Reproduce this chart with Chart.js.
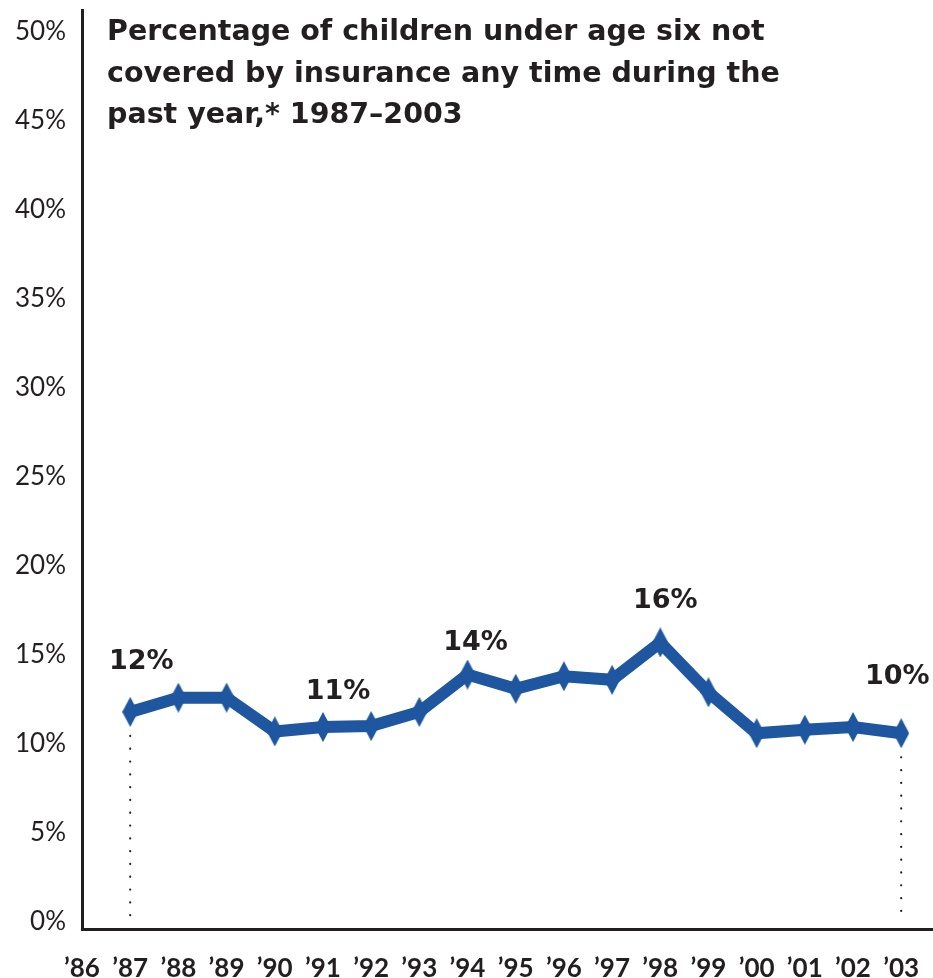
<!DOCTYPE html>
<html>
<head>
<meta charset="utf-8">
<script src="https://cdn.jsdelivr.net/npm/chart.js@4"></script>
<style>
  html, body { margin: 0; padding: 0; background: #fff; overflow: hidden; }
  #wrap { width: 933px; height: 978px; position: relative; }
  canvas { display: block; }
</style>
</head>
<body>
<div id="wrap"><canvas id="grafico"></canvas></div>
<script>
// dados
var anos = [1987, 1988, 1989, 1990, 1991, 1992, 1993, 1994, 1995, 1996, 1997, 1998, 1999, 2000, 2001, 2002, 2003];
var percentuais = [11.8, 12.6, 12.6, 10.7, 10.95, 11.0, 11.8, 13.9, 13.1, 13.8, 13.6, 15.7, 12.9, 10.6, 10.8, 10.95, 10.6];
var anosEixo = [1986, 1987, 1988, 1989, 1990, 1991, 1992, 1993, 1994, 1995, 1996, 1997, 1998, 1999, 2000, 2001, 2002, 2003];
var rotulosAnos = ["\u201986", "\u201987", "\u201988", "\u201989", "\u201990", "\u201991", "\u201992", "\u201993", "\u201994", "\u201995", "\u201996", "\u201997", "\u201998", "\u201999", "\u201900", "\u201901", "\u201902", "\u201903"];
var rotulosY = ["0%", "5%", "10%", "15%", "20%", "25%", "30%", "35%", "40%", "45%", "50%"];
// rotulos em cima de alguns pontos
var destaques = ["12%", null, null, null, "11%", null, null, "14%", null, null, null, "16%", null, null, null, null, "10%"];
var titulo = ["Percentage of children under age six not", "covered by insurance any time during the", "past year,* 1987\u20132003"];

var corLinha = '#1e56a0';
var corTexto = '#231f20';

// deslocamento de cada rotulo em relacao ao ponto
var ajusteDestaque = {
    0: [11, -50],
    4: [15, -35],
    7: [8, -32],
    11: [5, -41],
    16: [-4, -56]
};

// losango alto para os marcadores
var marcador = document.createElement('canvas');
marcador.width = 16;
marcador.height = 30;
var mctx = marcador.getContext('2d');
mctx.fillStyle = corLinha;
mctx.beginPath();
mctx.moveTo(8, 0);
mctx.lineTo(16, 15);
mctx.lineTo(8, 30);
mctx.lineTo(0, 15);
mctx.closePath();
mctx.fill();

var pontos = [];
for (var i = 0; i < anos.length; i++) {
    pontos.push({ x: anos[i], y: percentuais[i] });
}

// tira o espaco extra que o chart.js reserva pros rotulos das pontas
function semPadding(s) {
    s.paddingTop = 0;
    s.paddingBottom = 0;
    s.paddingLeft = 0;
    s.paddingRight = 0;
}

const extras = {
    id: 'extras',
    beforeDatasetsDraw(chart) {
        const ctx = chart.ctx;
        const meta = chart.getDatasetMeta(0);
        const fundo = chart.scales.y.getPixelForValue(0);
        ctx.save();
        ctx.strokeStyle = corTexto;
        ctx.lineWidth = 2.2;
        ctx.lineCap = 'round';
        ctx.setLineDash([0.1, 12.7]);
        [0, anos.length - 1].forEach(function (idx) {
            var p = meta.data[idx];
            ctx.beginPath();
            ctx.moveTo(p.x, p.y + 24);
            ctx.lineTo(p.x, fundo - 4);
            ctx.stroke();
        });
        ctx.restore();
    },
    afterDatasetsDraw(chart) {
        const ctx = chart.ctx;
        const meta = chart.getDatasetMeta(0);
        ctx.save();
        ctx.fillStyle = corTexto;
        ctx.font = 'bold 27px "DejaVu Sans"';
        ctx.textAlign = 'center';
        ctx.textBaseline = 'middle';
        for (var i = 0; i < destaques.length; i++) {
            if (!destaques[i]) continue;
            var p = meta.data[i];
            var d = ajusteDestaque[i];
            ctx.fillText(destaques[i], p.x + d[0], p.y + d[1]);
        }
        ctx.textAlign = 'left';
        ctx.textBaseline = 'alphabetic';
        ctx.font = 'bold 28.5px "DejaVu Sans"';
        for (var j = 0; j < titulo.length; j++) {
            ctx.fillText(titulo[j], 107, 40 + j * 41.5);
        }
        ctx.restore();
    }
};

const config = {
    type: 'line',
    data: {
        datasets: [{
            label: 'Sem seguro',
            data: pontos,
            borderColor: corLinha,
            backgroundColor: corLinha,
            borderWidth: 12,
            tension: 0,
            pointStyle: marcador,
            pointRadius: 10,
            pointHoverRadius: 10,
            pointBorderWidth: 0
        }]
    },
    plugins: [extras],
    options: {
        responsive: true,
        maintainAspectRatio: false,
        animation: false,
        devicePixelRatio: 1,
        layout: { autoPadding: false, padding: { top: 10, right: 0, left: 0, bottom: 0 } },
        plugins: {
            legend: { display: false },
            tooltip: { enabled: false }
        },
        scales: {
            x: {
                type: 'linear',
                min: 1986,
                max: 2003.66,
                afterBuildTicks: function (s) {
                    s.ticks = anosEixo.map(function (v) { return { value: v }; });
                },
                afterFit: function (s) { s.height = 49; semPadding(s); },
                grid: { display: false, drawTicks: false },
                border: { display: true, color: corTexto, width: 3 },
                ticks: {
                    autoSkip: false,
                    maxRotation: 0,
                    padding: 24,
                    color: corTexto,
                    font: { family: 'Lato', weight: 'bold', size: 26 },
                    callback: function (v) { return rotulosAnos[anosEixo.indexOf(v)]; }
                }
            },
            y: {
                min: -0.4,
                max: 51.24,
                afterBuildTicks: function (s) {
                    s.ticks = rotulosY.map(function (t, k) { return { value: k * 5 }; });
                },
                afterFit: function (s) { s.width = 82; semPadding(s); },
                grid: { display: false, drawTicks: false },
                border: { display: true, color: corTexto, width: 3 },
                ticks: {
                    padding: 16,
                    color: corTexto,
                    font: { family: 'Lato', size: 26 },
                    callback: function (v) { return rotulosY[Math.round(v / 5)]; }
                }
            }
        }
    }
};

const myChart = new Chart(document.getElementById('grafico'), config);
</script>
</body>
</html>
